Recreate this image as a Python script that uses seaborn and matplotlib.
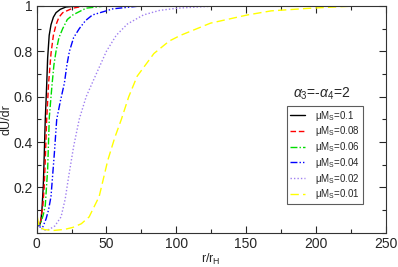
import matplotlib
matplotlib.use("Agg")
import matplotlib.pyplot as plt
import seaborn as sns
import pandas as pd
from matplotlib.ticker import MultipleLocator

# ---- data ----
labels = ["0.1", "0.08", "0.06", "0.04", "0.02", "0.01"]

r_01 = [0.5, 1, 1.9, 3.0, 3.8, 4.8, 5.5, 6.2, 7.2, 7.9, 9.0, 10.3, 12.0, 13.9, 17.0, 21.0, 30.0, 250]
u_01 = [0.05, 0.04, 0.03, 0.05, 0.10, 0.21, 0.35, 0.50, 0.65, 0.77, 0.87, 0.917, 0.95, 0.97, 0.985, 0.995, 1.0, 1.0]

r_008 = [0.5, 1, 2.0, 3.1, 4.5, 5.4, 6.2, 7.2, 8.6, 10.3, 12.0, 13.9, 16.0, 18.7, 25.9, 35.0, 250]
u_008 = [0.05, 0.04, 0.03, 0.06, 0.12, 0.2, 0.32, 0.5, 0.66, 0.79, 0.87, 0.917, 0.95, 0.97, 0.99, 1.0, 1.0]

r_006 = [0.5, 1, 2.0, 3.1, 4.8, 6.2, 7.9, 9.1, 11.0, 12.4, 13.9, 16.0, 18.7, 22.0, 25.9, 35.5, 50.0, 250]
u_006 = [0.05, 0.04, 0.03, 0.046, 0.08, 0.12, 0.28, 0.51, 0.65, 0.74, 0.80, 0.86, 0.90, 0.94, 0.96, 0.99, 1.0, 1.0]

r_004 = [0.5, 1, 2.5, 4.3, 6.7, 8.5, 10.3, 12.7, 14.4, 17.0, 19.9, 21.7, 23.5, 26.5, 30.6, 35.0, 40.0, 54.7, 75.0, 250]
u_004 = [0.05, 0.04, 0.025, 0.024, 0.06, 0.10, 0.16, 0.35, 0.50, 0.58, 0.66, 0.74, 0.80, 0.86, 0.90, 0.935, 0.96, 0.987, 1.0, 1.0]

r_002 = [0.5, 1, 3, 6, 9, 13, 17.5, 20.5, 23, 26.5, 30.5, 35.5, 42.7, 50, 57, 65, 76.5, 88, 101, 130, 250]
u_002 = [0.06, 0.04, 0.02, 0.012, 0.015, 0.03, 0.07, 0.15, 0.25, 0.38, 0.50, 0.60, 0.70, 0.80, 0.87, 0.92, 0.96, 0.98, 0.99, 1.0, 1.0]

r_001 = [0.5, 1.7, 5, 11.5, 20, 26, 32, 37.6, 44.8, 51, 56, 60.7, 66, 72, 84, 95, 103, 115, 124.6, 140, 151, 168, 197, 230, 250]
u_001 = [0.07, 0.03, 0.015, 0.01, 0.015, 0.024, 0.04, 0.07, 0.16, 0.32, 0.42, 0.50, 0.60, 0.69, 0.79, 0.845, 0.87, 0.90, 0.924, 0.945, 0.96, 0.978, 0.99, 1.0, 1.0]

series_r = [r_01, r_008, r_006, r_004, r_002, r_001]
series_u = [u_01, u_008, u_006, u_004, u_002, u_001]

colors = ["black", "#ff0000", "#00dd00", "#0000ff", "#a080f0", "#ffff00"]
styles = ["-", (0, (4, 2)), (0, (5, 1.5, 1, 1.5)), (0, (5, 1.5, 1, 1.5, 1, 1.5)), (0, (1, 1.5)), (0, (6, 3))]

sns.set_theme(style="ticks")
plt.rcParams['font.family'] = ['Liberation Sans', 'DejaVu Sans']
plt.rcParams['mathtext.fontset'] = 'custom'
plt.rcParams['mathtext.rm'] = 'Liberation Sans'
plt.rcParams['mathtext.it'] = 'Liberation Sans:italic'

fig = plt.figure(figsize=(3.98, 2.67), dpi=100)
ax = fig.add_axes([0.092, 0.128, 0.877, 0.85])

for lab, rr, uu, c, ls in zip(labels, series_r, series_u, colors, styles):
    df = pd.DataFrame({"r": rr, "u": uu})
    sns.lineplot(data=df, x="r", y="u", ax=ax, color=c, linestyle=ls,
                 linewidth=1.0, label=r"$\mathrm{\mu M_S}$=" + lab, sort=False)

ax.set_xlim(0, 250)
ax.set_ylim(0.0, 1.0)
ax.xaxis.set_major_locator(MultipleLocator(50))
ax.xaxis.set_minor_locator(MultipleLocator(25))
ax.set_yticks([0.2, 0.4, 0.6, 0.8, 1.0])
ax.set_yticklabels(["0.2", "0.4", "0.6", "0.8", "1"])
ax.yaxis.set_minor_locator(MultipleLocator(0.1))
ax.tick_params(which="both", direction="in", top=True, right=True, labelsize=10, pad=3)
ax.tick_params(which="major", length=5, width=0.8)
ax.tick_params(which="minor", length=3, width=0.8)
for s in ax.spines.values():
    s.set_linewidth(0.8)
    s.set_color("#333333")

ax.set_xlabel(r"r/r$_\mathrm{H}$", fontsize=9, labelpad=1)
ax.set_ylabel("dU/dr", fontsize=9)
ax.yaxis.set_label_coords(-0.068, 0.5)

leg = ax.legend(loc="upper left", bbox_to_anchor=(0.717, 0.56), fontsize=7,
                frameon=True, fancybox=False, handlelength=1.6, handletextpad=1.0,
                borderpad=0.3, labelspacing=0.18, borderaxespad=0)
leg.get_frame().set_edgecolor("#333333")
leg.get_frame().set_linewidth(0.8)
ax.text(0.818, 0.575, r"$\alpha_3$=-$\alpha_4$=2", transform=ax.transAxes,
        fontsize=10, ha="center", va="bottom")

fig.savefig("out.png", dpi=100)
